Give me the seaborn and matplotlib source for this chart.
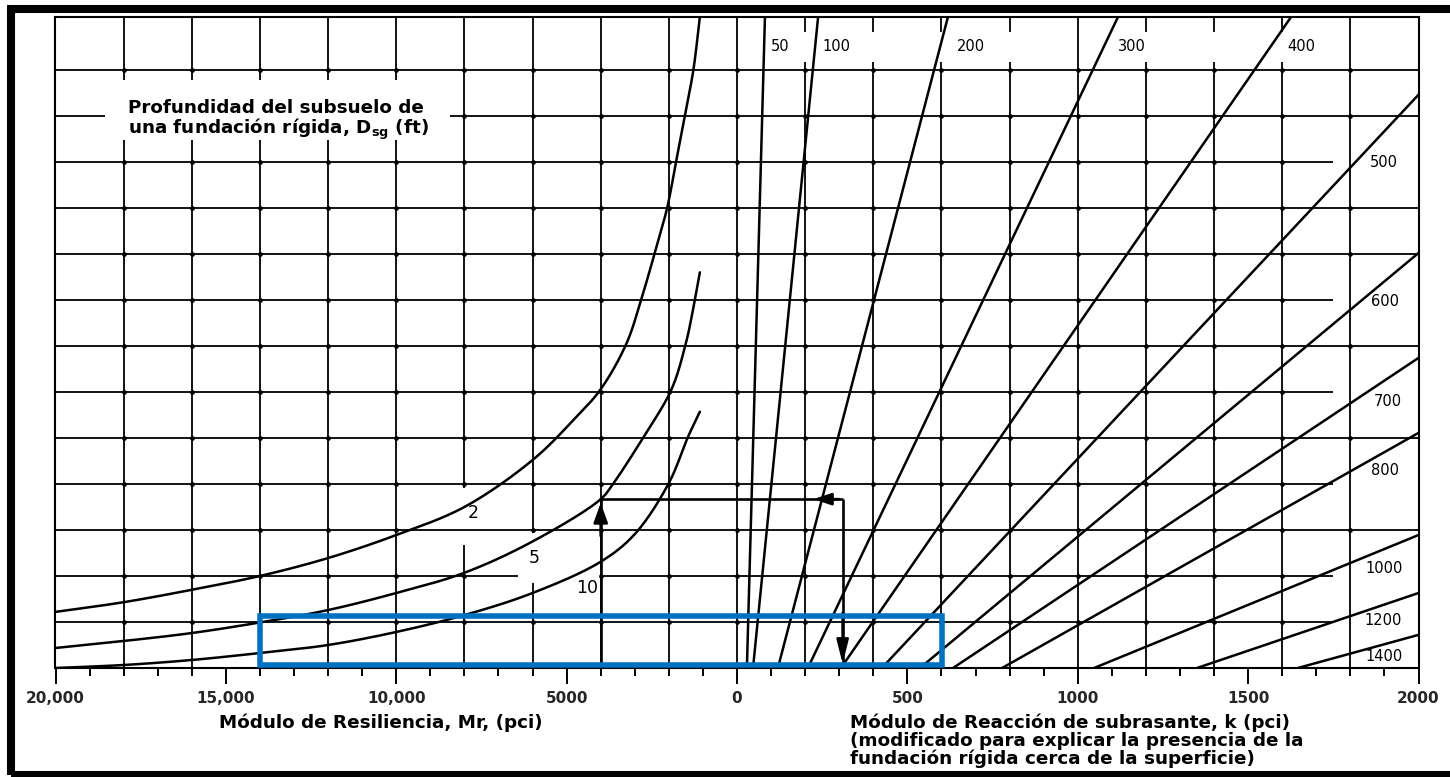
import numpy as np
import pandas as pd
import matplotlib
matplotlib.use("Agg")
import matplotlib.pyplot as plt
from matplotlib.patches import Rectangle
import seaborn as sns

# ---------------------------------------------------------------------------
# Left panel: depth to rigid foundation D_sg (ft), resilient modulus Mr (psi)
# versus the chart's vertical turning scale (grid rows)
# ---------------------------------------------------------------------------
mr_d2 = [20000, 18000, 16000, 14000, 12000, 10000, 8000, 6000, 4800, 4000,
         3240, 2800, 2410, 2050, 1790, 1530, 1280, 1090]
h_d2 = [1.22, 1.43, 1.70, 2.00, 2.39, 2.89, 3.50, 4.52, 5.39, 6.06,
        7.06, 8.04, 9.03, 10.0, 11.0, 12.0, 13.0, 14.15]

mr_d5 = [20000, 18000, 16000, 14000, 12000, 10000, 8000, 6000, 4000,
         3640, 2760, 1920, 1500, 1330, 1090]
h_d5 = [0.435, 0.587, 0.76, 0.99, 1.26, 1.63, 2.07, 2.75, 3.67,
        4.00, 5.00, 6.06, 7.06, 7.64, 8.60]

mr_d10 = [20000, 18000, 16000, 14000, 12000, 10000, 8000, 6000, 4000,
          3000, 2000, 1440, 1090]
h_d10 = [0.0, 0.065, 0.174, 0.326, 0.50, 0.783, 1.15, 1.63, 2.31,
         2.91, 4.02, 5.02, 5.57]

depth_labels = ["2", "5", "10"]

# ---------------------------------------------------------------------------
# Right panel: turning lines, composite k (pci) at the base and at the top end
# ---------------------------------------------------------------------------
k_line_labels = [50, 100, 200, 300, 400, 500, 600, 700, 800, 1000, 1200, 1400]
k_line_bottom = [29, 47, 120, 208, 305, 425, 537, 634, 778, 1048, 1350, 1646]
k_line_top = [82, 238, 619, 1118, 1626, 2000, 2000, 2000, 2000, 2000, 2000, 2000]
h_line_top = [14.15, 14.15, 14.15, 14.15, 14.15, 12.46, 9.02, 6.74, 5.11,
              2.89, 1.63, 0.72]

# Worked example: Mr = 4000 psi, D_sg = 5 ft  ->  k of about 310 pci
example_mr = 4000
example_k = 310

# Axis ticks
mr_tick_values = [20000, 15000, 10000, 5000]
mr_tick_labels = ["20,000", "15,000", "10,000", "5000"]
k_tick_values = [0, 500, 1000, 1500, 2000]
k_tick_labels = ["0", "500", "1000", "1500", "2000"]

# ---------------------------------------------------------------------------
W, H = 1450, 777
Y_TOP = 14.15
GRID_LW = 1.3
CURVE_LW = 1.8
INK = "black"
PX_PER_X = 1363 / 4000.0   # drawing scale of the shared x axis
PX_PER_H = 46.0            # drawing scale of one grid row


def mr_to_x(mr):
    """Left half of the shared axis: Mr 20,000 -> 0 psi maps to -2000 -> 0."""
    return -np.asarray(mr, dtype=float) / 10.0


def smooth_path(x, h, n_per=24):
    """Centripetal Catmull-Rom drawing path through the given points."""
    P = np.column_stack([np.asarray(x, float) * PX_PER_X,
                         np.asarray(h, float) * PX_PER_H])
    P = np.vstack([2 * P[0] - P[1], P, 2 * P[-1] - P[-2]])
    out = []
    for i in range(1, len(P) - 2):
        p0, p1, p2, p3 = P[i - 1], P[i], P[i + 1], P[i + 2]
        t0 = 0.0
        t1 = t0 + np.linalg.norm(p1 - p0) ** 0.5
        t2 = t1 + np.linalg.norm(p2 - p1) ** 0.5
        t3 = t2 + np.linalg.norm(p3 - p2) ** 0.5
        t = np.linspace(t1, t2, n_per, endpoint=False)[:, None]
        a1 = (t1 - t) / (t1 - t0) * p0 + (t - t0) / (t1 - t0) * p1
        a2 = (t2 - t) / (t2 - t1) * p1 + (t - t1) / (t2 - t1) * p2
        a3 = (t3 - t) / (t3 - t2) * p2 + (t - t2) / (t3 - t2) * p3
        b1 = (t2 - t) / (t2 - t0) * a1 + (t - t0) / (t2 - t0) * a2
        b2 = (t3 - t) / (t3 - t1) * a2 + (t - t1) / (t3 - t1) * a3
        out.append((t2 - t) / (t2 - t1) * b1 + (t - t1) / (t2 - t1) * b2)
    out.append(P[-2][None, :])
    C = np.vstack(out)
    return C[:, 0] / PX_PER_X, C[:, 1] / PX_PER_H


def fx(px):
    return px / W


def fy(py):
    return 1.0 - py / H


sns.set_theme(style="white")
plt.rcParams["font.family"] = ["DejaVu Sans"]

fig = plt.figure(figsize=(W / 100, H / 100), dpi=100)
fig.patch.set_facecolor("white")
ax = fig.add_axes([fx(55.5), fy(668), fx(1418.5) - fx(55.5), fy(17) - fy(668)])
ax.set_facecolor("white")
ax.set_xlim(-2000, 2000)
ax.set_ylim(0, Y_TOP)

# ---- grid ----------------------------------------------------------------
v_gaps = {-800: [(2.67, 3.91)], -600: [(1.85, 2.93)]}
for kk in (200, 400, 600, 800, 1200, 1400, 1600):
    v_gaps[kk] = [(13.17, 13.83)]

grid_x = list(range(-1800, 2000, 200))
for gx in grid_x:
    start = 0.0
    for g0, g1 in v_gaps.get(gx, []):
        ax.vlines(gx, start, g0, color=INK, lw=GRID_LW, zorder=1)
        start = g1
    ax.vlines(gx, start, Y_TOP, color=INK, lw=GRID_LW, zorder=1)

h_gaps = {r: [(1750, 2000)] for r in (1, 4, 6, 8, 11)}
h_gaps[2] = [(-643, -400), (1750, 2000)]
for row in range(1, 14):
    start = -2000.0
    for g0, g1 in h_gaps.get(row, []):
        ax.hlines(row, start, g0, color=INK, lw=GRID_LW, zorder=1)
        start = g1
    if start < 2000:
        ax.hlines(row, start, 2000, color=INK, lw=GRID_LW, zorder=1)

# heavy ink dots where the printed grid lines cross
dots_x, dots_y = [], []
for gx in grid_x:
    for row in range(1, 14):
        in_vgap = any(a < row < b for a, b in v_gaps.get(gx, []))
        in_hgap = any(a < gx < b for a, b in h_gaps.get(row, []))
        if not (in_vgap or in_hgap):
            dots_x.append(gx)
            dots_y.append(row)
ax.plot(dots_x, dots_y, ls="none", marker="o", ms=2.4, color=INK, zorder=1.5)

# white panel behind the depth caption
ax.add_patch(Rectangle((-1855, 11.48), 1013, 1.30, facecolor="white",
                       edgecolor="none", zorder=2))

# ---- depth curves ----------------------------------------------------------
frames = []
for m, h, lab in zip((mr_d2, mr_d5, mr_d10), (h_d2, h_d5, h_d10), depth_labels):
    xs, hs = smooth_path(mr_to_x(m), h)
    frames.append(pd.DataFrame({"x": xs, "h": hs, "curve": lab}))
depth_df = pd.concat(frames, ignore_index=True)
sns.lineplot(data=depth_df, x="x", y="h", units="curve", estimator=None,
             sort=False, color=INK, linewidth=CURVE_LW, legend=False, ax=ax,
             zorder=3)

# ---- k turning lines --------------------------------------------------------
k_df = pd.concat([
    pd.DataFrame({"x": [kb, kt], "h": [0.0, ht], "line": str(lab)})
    for lab, kb, kt, ht in zip(k_line_labels, k_line_bottom, k_line_top, h_line_top)
], ignore_index=True)
sns.lineplot(data=k_df, x="x", y="h", units="line", estimator=None,
             sort=False, color=INK, linewidth=CURVE_LW, legend=False, ax=ax,
             zorder=3)

# ---- curve labels -------------------------------------------------------------
depth_label_pos = [(-774, 3.36), (-595, 2.385), (-441, 1.73)]
for lab, (x, y) in zip(depth_labels, depth_label_pos):
    ax.text(x, y, lab, fontsize=12.5, ha="center", va="center", color=INK, zorder=4)

k_label_pos = [(126, 13.51), (293, 13.51), (688, 13.51), (1158, 13.51),
               (1655, 13.51), (1899, 10.98), (1902, 7.96), (1909, 5.79),
               (1902, 4.30), (1899, 2.17), (1896, 1.03), (1899, 0.246)]
for lab, (x, y) in zip(k_line_labels, k_label_pos):
    ax.text(x, y, str(lab), fontsize=10.5, ha="center", va="center",
            color=INK, zorder=4)

# ---- worked example path ------------------------------------------------------
ex_x = float(mr_to_x(example_mr))
ex_h = float(np.interp(ex_x, mr_to_x(mr_d5), h_d5))
arrow_lw = 1.9
ax.plot([ex_x, ex_x], [0, ex_h], color=INK, lw=arrow_lw, zorder=5,
        solid_capstyle="butt")
ax.plot([ex_x, example_k], [ex_h, ex_h], color=INK, lw=arrow_lw, zorder=5,
        solid_capstyle="butt")
ax.plot([example_k, example_k], [ex_h, 0.09], color=INK, lw=arrow_lw, zorder=5,
        solid_capstyle="butt")
ax.annotate("", xy=(ex_x, ex_h - 0.08), xytext=(ex_x, ex_h - 0.8),
            arrowprops=dict(arrowstyle="-|>,head_length=1.0,head_width=0.36",
                            color=INK, lw=arrow_lw, shrinkA=0, shrinkB=0),
            zorder=5)
ax.annotate("", xy=(224, ex_h), xytext=(300, ex_h),
            arrowprops=dict(arrowstyle="-|>,head_length=0.9,head_width=0.3",
                            color=INK, lw=arrow_lw, shrinkA=0, shrinkB=0),
            zorder=5)
ax.annotate("", xy=(example_k, 0.09), xytext=(example_k, 1.2),
            arrowprops=dict(arrowstyle="-|>,head_length=1.2,head_width=0.3",
                            color=INK, lw=arrow_lw, shrinkA=0, shrinkB=0),
            zorder=5)

# ---- highlighted band -------------------------------------------------------------
ax.add_patch(Rectangle((-1400, 0.076), 2002.5, 1.044, fill=False,
                       edgecolor="#0070C0", lw=4.0, zorder=10, clip_on=False))

# ---- axes, ticks --------------------------------------------------------------------
major_pos = list(mr_to_x(mr_tick_values)) + list(k_tick_values)
major_lab = mr_tick_labels + k_tick_labels
ax.set_xticks(major_pos)
ax.set_xticklabels(major_lab, fontsize=11, fontweight="bold")
ax.set_xticks([v for v in range(-2000, 2001, 100) if v % 500 != 0], minor=True)
ax.tick_params(axis="x", which="major", direction="out", length=11.5, width=1.4,
               color=INK, pad=5, bottom=True)
ax.tick_params(axis="x", which="minor", direction="out", length=6, width=1.4,
               color=INK, bottom=True)
ax.set_yticks([])
ax.set_xlabel("")
ax.set_ylabel("")
for sp in ax.spines.values():
    sp.set_color(INK)
    sp.set_linewidth(1.5)
    sp.set_visible(True)

# ---- captions -------------------------------------------------------------------------
ax.text(-1787, 11.90,
        "Profundidad del subsuelo de\nuna fundación rígida, D$_{\\mathregular{sg}}$ (ft)",
        fontsize=13.2, fontweight="bold", ha="left", va="center", linespacing=0.95,
        color=INK, zorder=4)
fig.text(fx(381), fy(723), "Módulo de Resiliencia, Mr, (pci)", fontsize=13.2,
         fontweight="bold", ha="center", va="center", color=INK)
fig.text(fx(850), fy(713),
         "Módulo de Reacción de subrasante, k (pci)\n"
         "(modificado para explicar la presencia de la\n"
         "fundación rígida cerca de la superficie)",
         fontsize=13.2, fontweight="bold", ha="left", va="top", linespacing=1.0,
         color=INK)

# ---- outer frame ------------------------------------------------------------------------
fig.add_artist(Rectangle((fx(11), fy(775)), fx(1480) - fx(11), fy(9) - fy(775),
                         transform=fig.transFigure, fill=False, edgecolor=INK,
                         lw=5.8, clip_on=False))

fig.savefig("out.png", dpi=100, facecolor="white")
